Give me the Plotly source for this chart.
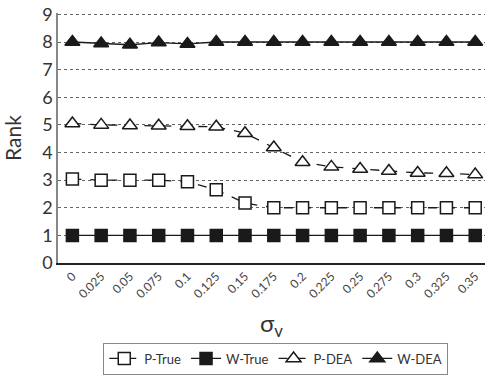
import plotly.graph_objects as go

sigma_v = ["0", "0.025", "0.05", "0.075", "0.1", "0.125", "0.15", "0.175",
           "0.2", "0.225", "0.25", "0.275", "0.3", "0.325", "0.35"]
p_true = [3.04, 3.0, 3.0, 3.0, 2.94, 2.65, 2.17, 2.0, 2.0, 2.0, 2.0, 2.0, 2.0, 2.0, 2.0]
w_true = [1, 1, 1, 1, 1, 1, 1, 1, 1, 1, 1, 1, 1, 1, 1]
p_dea = [5.05, 5.0, 4.98, 4.97, 4.95, 4.93, 4.7, 4.18, 3.65, 3.48, 3.4, 3.33, 3.26, 3.25, 3.2]
w_dea = [8.0, 7.95, 7.9, 7.98, 7.93, 8.0, 8.0, 8.0, 8.0, 8.0, 8.0, 8.0, 8.0, 8.0, 8.0]

FONT = "Lato, Open Sans, sans-serif"
fig = go.Figure()

def add(name, y, symbol, dash, fill):
    fig.add_trace(go.Scatter(
        x=sigma_v, y=y, name=name, mode="lines+markers",
        line=dict(color="#1a1a1a", width=1.3, dash=dash),
        marker=dict(symbol=symbol, size=13 if "triangle" in symbol else 12,
                    color=fill, line=dict(color="#1a1a1a", width=1.5)),
    ))

add("P-True", p_true, "square", "dash", "white")
add("W-True", w_true, "square", "solid", "#1a1a1a")
add("P-DEA", p_dea, "triangle-up", "dash", "white")
add("W-DEA", w_dea, "triangle-up", "solid", "#1a1a1a")

fig.update_layout(
    width=485, height=375,
    margin=dict(l=58, r=0, t=13, b=108),
    paper_bgcolor="white", plot_bgcolor="white",
    font=dict(family=FONT, color="#333333"),
    showlegend=True,
    legend=dict(orientation="h", x=0.51, xanchor="center", y=-0.318, yanchor="top",
                bordercolor="#888888", borderwidth=1, font=dict(size=13, color="#333333"),
                itemwidth=30, tracegroupgap=0),
    xaxis=dict(type="category", range=[-0.5, 14.34], tickangle=-45, automargin=False,
               tickfont=dict(size=12, color="#444444"), showgrid=False,
               showline=True, linecolor="#222222", linewidth=1.5, ticks="",
               title=dict(text="σ<sub>v</sub>", font=dict(size=24, color="#333333"))),
    yaxis=dict(range=[0, 9.05], dtick=1, tickfont=dict(size=18, color="#333333"), automargin=False,
               showgrid=True, gridcolor="#666666", griddash="dot", gridwidth=1,
               zeroline=False, showline=True, linecolor="#888888", linewidth=1.5,
               ticks="", ticklen=0,
               title=dict(text="Rank", font=dict(size=21, color="#333333"))),
)

fig.write_html("out.html", config={"displayModeBar": False},
               post_script="document.body.style.margin='0';")
